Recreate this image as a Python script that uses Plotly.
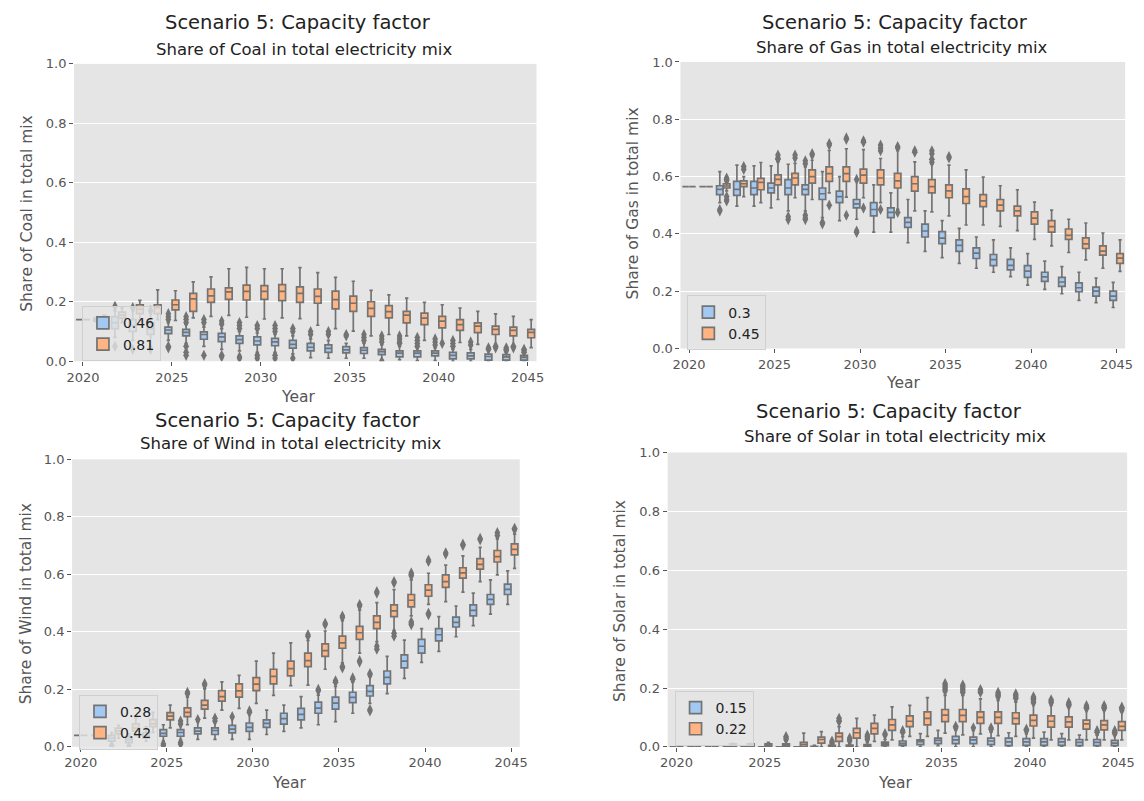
import plotly.graph_objects as go

YEARS = list(range(2020, 2046))

# ---------------- Coal (0.46 / 0.81) ----------------
COAL_LABELS = ["0.46", "0.81"]
COAL_A_MED = [.14, .14, .13, .12, .11, .105, .097, .09, .082, .073, .068, .065, .057, .047, .043, .038, .037, .032, .027, .027, .027, .02, .018, .016, .015, .013]
COAL_A_Q1 = [.14, .135, .11, .10, .09, .093, .085, .074, .066, .06, .055, .052, .044, .035, .03, .028, .026, .022, .015, .015, .018, .008, .008, .004, .004, .004]
COAL_A_Q3 = [.14, .145, .15, .14, .13, .115, .107, .099, .094, .085, .082, .077, .07, .06, .055, .049, .046, .04, .035, .035, .035, .03, .028, .024, .022, .02]
COAL_A_LO = [.14, .13, .08, .07, .05, .07, .06, .05, .04, .035, .03, .03, .025, .012, .01, .01, .01, .005, .005, .002, .002, 0, 0, 0, 0, 0]
COAL_A_HI = [.14, .15, .17, .17, .16, .13, .125, .115, .11, .10, .095, .09, .085, .075, .07, .06, .06, .055, .05, .045, .045, .04, .04, .035, .03, .028]
COAL_A_OUT = [[], [], [.05, .185], [.04, .18], [.04, .17], [.16, .15, .14, .05, .045], [.15, .14, .13, .05, .03, .02],
              [.14, .13, .02], [.135, .125, .02, .015], [.13, .12, .11, .015, .01], [.12, .11, .02, .01],
              [.12, .11, .10, .02, .01], [.11, .10, .01], [.10, .09], [.10, .09], [.09, .085], [.09, .08, .07],
              [.085, .075, .065, 0.0], [.085, .075, .065, .06], [.08, .07, .06, .05], [.075, .065, .055],
              [.07, .06, .05], [.065, .055], [.045, .04], [.045, .04, .035], [.04, .035, .03]]
COAL_B_MED = [.14, .145, .155, .175, .18, .19, .21, .22, .233, .235, .235, .235, .228, .218, .207, .195, .178, .167, .155, .145, .135, .123, .118, .107, .104, .097]
COAL_B_Q1 = [.14, .14, .145, .16, .16, .173, .168, .198, .208, .206, .208, .204, .198, .195, .176, .168, .151, .146, .129, .123, .112, .104, .096, .09, .085, .079]
COAL_B_Q3 = [.14, .15, .165, .19, .19, .206, .228, .243, .247, .256, .254, .258, .25, .243, .236, .219, .20, .187, .168, .162, .151, .14, .129, .118, .115, .107]
COAL_B_LO = [.14, .135, .13, .14, .14, .137, .146, .151, .154, .148, .142, .146, .143, .121, .11, .101, .085, .09, .085, .07, .066, .063, .057, .057, .052, .046]
COAL_B_HI = [.14, .155, .18, .205, .24, .237, .267, .284, .311, .316, .311, .311, .315, .298, .282, .269, .238, .223, .212, .198, .19, .179, .168, .159, .151, .14]
COAL_B_OUT = [[] for _ in range(20)] + [[.06], [], [], [.05, .045], [.05, .045], []]

# ---------------- Gas (0.3 / 0.45) ----------------
GAS_LABELS = ["0.3", "0.45"]
GAS_A_MED = [.565, .565, .555, .555, .56, .56, .56, .555, .54, .53, .505, .485, .475, .44, .41, .385, .36, .333, .31, .29, .27, .25, .232, .212, .20, .183]
GAS_A_Q1 = [.565, .565, .537, .534, .537, .543, .537, .537, .52, .509, .491, .463, .457, .423, .389, .366, .339, .314, .289, .274, .248, .234, .217, .198, .183, .168]
GAS_A_Q3 = [.565, .565, .568, .583, .583, .577, .589, .571, .56, .549, .52, .509, .491, .457, .434, .408, .379, .351, .328, .311, .289, .266, .248, .229, .214, .20]
GAS_A_LO = [.565, .565, .509, .497, .497, .491, .48, .48, .457, .446, .451, .406, .406, .369, .339, .317, .297, .28, .266, .251, .221, .206, .191, .168, .16, .143]
GAS_A_HI = [.565, .565, .617, .64, .637, .637, .643, .634, .617, .60, .583, .571, .543, .52, .48, .446, .419, .389, .379, .351, .331, .305, .286, .266, .246, .231]
GAS_A_OUT = [[], [], [.485, .48], [], [], [], [.46, .45], [.465, .455, .45, .655, .645], [.44, .435], [],
             [.41, .405, .59]] + [[] for _ in range(15)]
GAS_B_MED = [.565, .565, .567, .575, .58, .59, .595, .60, .61, .61, .605, .595, .585, .575, .565, .55, .53, .515, .50, .48, .455, .425, .395, .365, .34, .315]
GAS_B_Q1 = [.565, .565, .56, .565, .554, .571, .571, .577, .583, .583, .577, .571, .56, .549, .543, .526, .506, .495, .48, .463, .434, .406, .381, .349, .326, .297]
GAS_B_Q3 = [.565, .565, .575, .585, .594, .606, .611, .623, .634, .634, .626, .623, .611, .60, .589, .571, .557, .537, .52, .497, .477, .446, .417, .386, .358, .331]
GAS_B_LO = [.565, .565, .55, .53, .509, .52, .526, .52, .543, .528, .526, .509, .486, .48, .477, .463, .431, .431, .426, .411, .381, .358, .335, .309, .28, .269]
GAS_B_HI = [.565, .565, .58, .60, .649, .651, .646, .657, .691, .697, .694, .663, .691, .651, .643, .64, .623, .598, .568, .554, .511, .483, .451, .438, .403, .379]
GAS_B_OUT = [[], [], [.595, .59, .585, .53, .52, .515], [.635, .625], [], [.675, .665, .66], [.675, .665], [.68, .675],
             [.715, .71, .50], [.735, .73, .465], [.725, .72, .49], [.71, .70, .69, .485], [.705, .70, .475],
             [.69, .685], [.69, .68, .66, .65], [.67, .665]] + [[] for _ in range(10)]

# ---------------- Wind (0.28 / 0.42) ----------------
WIND_LABELS = ["0.28", "0.42"]
WIND_A_MED = [.04, .04, .03, .025, .04, .047, .05, .055, .057, .062, .068, .082, .098, .113, .135, .152, .172, .193, .242, .298, .35, .39, .433, .475, .513, .548]
WIND_A_Q1 = [.04, .04, .02, .015, .03, .037, .037, .045, .043, .049, .054, .068, .079, .094, .117, .131, .154, .177, .219, .275, .326, .369, .417, .456, .496, .53]
WIND_A_Q3 = [.04, .04, .04, .035, .05, .06, .06, .066, .066, .075, .083, .094, .117, .134, .156, .173, .19, .213, .264, .32, .374, .411, .451, .494, .53, .566]
WIND_A_LO = [.04, .04, .01, .005, .02, .02, .025, .026, .026, .026, .026, .043, .054, .066, .077, .088, .117, .151, .185, .238, .294, .332, .383, .422, .462, .496]
WIND_A_HI = [.04, .04, .05, .045, .07, .077, .077, .088, .094, .10, .117, .128, .145, .175, .18, .21, .225, .245, .315, .371, .411, .453, .49, .535, .581, .612]
WIND_A_OUT = [[], [], [.0, .005], [.0], [], [.01, .005], [.09, .08, .015, .01], [.095], [.10, .09], [.105],
              [.125, .12], [], [], [], [.20, .195], [.23, .225], [.24, .235], [.255, .25, .13, .125]] + [[] for _ in range(8)]
WIND_B_MED = [.04, .04, .055, .065, .08, .107, .12, .145, .175, .195, .218, .245, .272, .30, .335, .362, .397, .433, .473, .51, .545, .575, .605, .635, .662, .687]
WIND_B_Q1 = [.04, .04, .045, .055, .07, .094, .105, .131, .159, .173, .196, .219, .247, .279, .315, .343, .374, .411, .453, .487, .524, .555, .587, .618, .643, .668]
WIND_B_Q3 = [.04, .04, .065, .08, .095, .119, .136, .162, .196, .219, .241, .27, .298, .326, .358, .385, .419, .456, .494, .53, .564, .598, .623, .655, .683, .706]
WIND_B_LO = [.04, .04, .03, .04, .05, .066, .077, .10, .128, .134, .151, .179, .213, .215, .27, .292, .326, .366, .405, .456, .496, .505, .538, .575, .598, .621]
WIND_B_HI = [.04, .04, .075, .10, .12, .145, .173, .202, .226, .249, .298, .326, .362, .37, .403, .439, .476, .502, .547, .581, .604, .632, .664, .694, .723, .74]
WIND_B_OUT = [[], [], [], [], [], [], [.19, .185], [.22, .215], [], [], [], [], [], [.39, .385], [.43, .425],
              [.455, .45, .28, .275], [.495, .49, .30, .295], [.54, .535, .35, .34], [.575, .57, .395, .385],
              [.605, .60, .595, .435, .43, .425], [.65, .645, .465, .46], [.675, .67], [.705, .70], [.725, .72],
              [.745, .735], [.76, .755]]

# ---------------- Solar (0.15 / 0.22) ----------------
SOLAR_LABELS = ["0.15", "0.22"]
SOLAR_A_MED = [0, 0, 0, 0, 0, 0, 0, 0, 0, .002, .003, .005, .01, .012, .018, .022, .024, .024, .02, .017, .017, .017, .017, .015, .015, .013]
SOLAR_A_Q1 = [0, 0, 0, 0, 0, 0, 0, 0, 0, 0, 0, .001, .004, .005, .008, .011, .011, .011, .008, .004, .005, .005, .005, .004, .004, .004]
SOLAR_A_Q3 = [0, 0, 0, 0, 0, 0, 0, 0, .002, .005, .006, .008, .016, .02, .024, .03, .036, .033, .03, .03, .028, .028, .028, .025, .025, .022]
SOLAR_A_LO = [0, 0, 0, 0, 0, 0, 0, 0, 0, 0, 0, 0, 0, 0, 0, .004, 0, 0, 0, 0, 0, 0, 0, 0, 0, 0]
SOLAR_A_HI = [0, 0, 0, 0, 0, 0, 0, 0, .005, .008, .01, .015, .025, .035, .045, .056, .058, .056, .05, .048, .045, .05, .045, .04, .04, .04]
SOLAR_A_OUT = [[] for _ in range(9)] + [[.02, .015, .01], [.03, .025, .02], [.04, .035, .03, .025], [.045, .04],
                                        [.055, .05], [], [], [.07, .065], [.065], [.065, .06], [], [.06, .055],
                                        [], [], [], [.055, .05], [.055, .05, .045]]
SOLAR_B_MED = [0, 0, 0, .005, .005, .005, .005, .008, .025, .035, .048, .063, .075, .087, .097, .108, .107, .10, .10, .097, .09, .087, .085, .078, .075, .07]
SOLAR_B_Q1 = [0, 0, 0, 0, 0, 0, 0, 0, .013, .019, .03, .044, .056, .069, .075, .086, .086, .08, .08, .078, .071, .067, .067, .06, .058, .056]
SOLAR_B_Q3 = [0, 0, 0, .01, .01, .01, .01, .015, .033, .047, .063, .08, .093, .105, .119, .127, .127, .119, .119, .116, .108, .105, .102, .091, .089, .086]
SOLAR_B_LO = [0, 0, 0, 0, 0, 0, 0, 0, 0, 0, 0, .019, .024, .036, .036, .047, .041, .044, .038, .036, .03, .024, .024, .024, .024, .024]
SOLAR_B_HI = [0, 0, 0, .012, .012, .015, .02, .047, .052, .069, .097, .108, .136, .141, .167, .175, .175, .163, .158, .152, .147, .141, .136, .13, .125, .12]
SOLAR_B_OUT = [[], [], [], [], [], [], [.035, .03, .025], [], [], [.097, .09, .086], [], [], [], [], [],
               [.215, .21, .205, .20, .195, .19], [.21, .205, .20, .195, .19, .185], [.195, .19, .185],
               [.185, .18, .175, .17], [.18, .175, .17, .165], [.17, .165, .16, .155, .15], [.16, .155, .15],
               [.15, .145, .14], [.14, .135, .13], [.14, .135, .13], [.135, .13, .125]]

# ---------------- styling ----------------
W, H = 1144, 801
BLUE, ORANGE, GRAY = "#a1c9f4", "#ffb482", "#737373"
BG = "#e5e5e5"
FONT = "DejaVu Sans"
DODGE = 0.2
BOXW = 0.38


def fx(px):
    return px / W


def fy(py):
    return 1 - py / H


panels = [
    dict(src="Coal", labels=COAL_LABELS,
         A=(COAL_A_Q1, COAL_A_MED, COAL_A_Q3, COAL_A_LO, COAL_A_HI, COAL_A_OUT),
         B=(COAL_B_Q1, COAL_B_MED, COAL_B_Q3, COAL_B_LO, COAL_B_HI, COAL_B_OUT),
         box=(67, 536, 58, 361), t1=(294, 16), t2=(300, 43), yl=(19, 210), xl=(294, 397), lg=(75, 305)),
    dict(src="Gas", labels=GAS_LABELS,
         A=(GAS_A_Q1, GAS_A_MED, GAS_A_Q3, GAS_A_LO, GAS_A_HI, GAS_A_OUT),
         B=(GAS_B_Q1, GAS_B_MED, GAS_B_Q3, GAS_B_LO, GAS_B_HI, GAS_B_OUT),
         box=(682, 1133, 56, 348), t1=(900, 16), t2=(907, 41), yl=(634, 200), xl=(908, 383), lg=(689, 294)),
    dict(src="Wind", labels=WIND_LABELS,
         A=(WIND_A_Q1, WIND_A_MED, WIND_A_Q3, WIND_A_LO, WIND_A_HI, WIND_A_OUT),
         B=(WIND_B_Q1, WIND_B_MED, WIND_B_Q3, WIND_B_LO, WIND_B_HI, WIND_B_OUT),
         box=(65, 519, 461, 754), t1=(284, 421), t2=(287, 445), yl=(18, 608), xl=(285, 791), lg=(72, 701)),
    dict(src="Solar", labels=SOLAR_LABELS,
         A=(SOLAR_A_Q1, SOLAR_A_MED, SOLAR_A_Q3, SOLAR_A_LO, SOLAR_A_HI, SOLAR_A_OUT),
         B=(SOLAR_B_Q1, SOLAR_B_MED, SOLAR_B_Q3, SOLAR_B_LO, SOLAR_B_HI, SOLAR_B_OUT),
         box=(669, 1135, 454, 754), t1=(893, 412), t2=(900, 438), yl=(620, 605), xl=(900, 791), lg=(676, 697)),
]

fig = go.Figure()
annotations = []
layout = dict(
    width=W, height=H, margin=dict(l=0, r=0, t=0, b=0),
    paper_bgcolor="white", plot_bgcolor=BG,
    font=dict(family=FONT, size=13, color="#555555"),
    showlegend=True, boxmode="overlay",
)

for i, p in enumerate(panels, start=1):
    sfx = "" if i == 1 else str(i)
    xa, ya = "x" + sfx, "y" + sfx
    lg = "legend" + sfx
    for (stats, color, label, off) in [(p["A"], BLUE, p["labels"][0], -DODGE),
                                       (p["B"], ORANGE, p["labels"][1], DODGE)]:
        q1, med, q3, lo, hi, outs = stats
        xs = [y + off for y in YEARS]
        fig.add_trace(go.Box(
            x=xs, q1=q1, median=med, q3=q3, lowerfence=lo, upperfence=hi,
            name=label, width=BOXW, fillcolor=color, boxpoints=False,
            line=dict(color=GRAY, width=1.7), whiskerwidth=0.5,
            xaxis=xa, yaxis=ya, legend=lg, showlegend=True, hoverinfo="skip",
        ))
        ox, oy = [], []
        for yr, vals in zip(xs, outs):
            for v in vals:
                ox.append(yr)
                oy.append(v)
        fig.add_trace(go.Scatter(
            x=ox, y=oy, mode="markers", showlegend=False, hoverinfo="skip",
            marker=dict(symbol="diamond-tall", size=8, color=GRAY, line=dict(width=0)),
            xaxis=xa, yaxis=ya,
        ))
    x0, x1, ytop, ybot = p["box"]
    layout["xaxis" + sfx] = dict(
        domain=[fx(x0), fx(x1)], anchor=ya, range=[2019.5, 2045.5],
        tickvals=[2020, 2025, 2030, 2035, 2040, 2045], ticks="outside", ticklen=4,
        tickcolor="#555555", showgrid=False, zeroline=False, showline=False,
        tickfont=dict(size=13, color="#555555"),
    )
    layout["yaxis" + sfx] = dict(
        domain=[fy(ybot), fy(ytop)], anchor=xa, range=[0, 1],
        tickvals=[0, 0.2, 0.4, 0.6, 0.8, 1.0], tickformat=".1f", ticks="outside", ticklen=4,
        tickcolor="#555555", showgrid=True, gridcolor="white", gridwidth=1.2,
        zeroline=False, showline=False, tickfont=dict(size=13, color="#555555"),
    )
    layout[lg] = dict(
        x=fx(p["lg"][0]), y=fy(p["lg"][1]), xanchor="left", yanchor="top",
        bgcolor="rgba(229,229,229,0.8)", bordercolor="#cfcfcf", borderwidth=1,
        font=dict(size=14, color="#222222", family=FONT), tracegroupgap=2,
    )
    annotations += [
        dict(text="Scenario 5: Capacity factor", x=fx(p["t1"][0]), y=fy(p["t1"][1]),
             font=dict(size=19.5, color="#222222")),
        dict(text=f"Share of {p['src']} in total electricity mix", x=fx(p["t2"][0]), y=fy(p["t2"][1]),
             font=dict(size=16.5, color="#222222")),
        dict(text=f"Share of {p['src']} in total mix", x=fx(p["yl"][0]), y=fy(p["yl"][1]),
             textangle=-90, font=dict(size=15.5, color="#555555")),
        dict(text="Year", x=fx(p["xl"][0]), y=fy(p["xl"][1]), font=dict(size=15.5, color="#555555")),
    ]

for a in annotations:
    a.update(xref="paper", yref="paper", showarrow=False, xanchor="center", yanchor="middle")
layout["annotations"] = annotations
fig.update_layout(**layout)
fig.write_html("out.html")
